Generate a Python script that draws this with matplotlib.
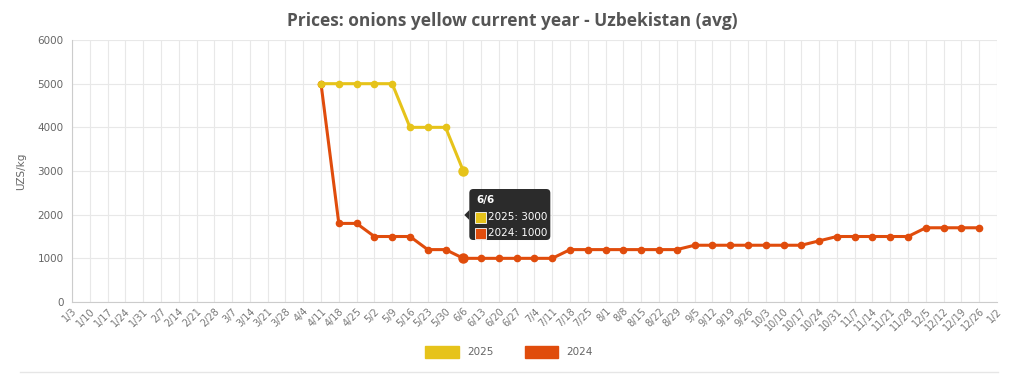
import numpy as np
import matplotlib.pyplot as plt
import matplotlib.transforms as mtransforms
from matplotlib.patches import Patch, FancyBboxPatch, Rectangle, Polygon

# semanas (eje x)
semanas = ["1/3", "1/10", "1/17", "1/24", "1/31", "2/7", "2/14", "2/21", "2/28",
           "3/7", "3/14", "3/21", "3/28", "4/4", "4/11", "4/18", "4/25", "5/2",
           "5/9", "5/16", "5/23", "5/30", "6/6", "6/13", "6/20", "6/27", "7/4",
           "7/11", "7/18", "7/25", "8/1", "8/8", "8/15", "8/22", "8/29", "9/5",
           "9/12", "9/19", "9/26", "10/3", "10/10", "10/17", "10/24", "10/31",
           "11/7", "11/14", "11/21", "11/28", "12/5", "12/12", "12/19", "12/26", "1/2"]

# precios 2025 (desde 4/11 hasta 6/6)
inicio_2025 = "4/11"
precios_2025 = [5000, 5000, 5000, 5000, 5000, 4000, 4000, 4000, 3000]

# precios 2024 (desde 4/11 hasta 12/26)
inicio_2024 = "4/11"
precios_2024 = [5000, 1800, 1800, 1500, 1500, 1500, 1200, 1200, 1000, 1000,
                1000, 1000, 1000, 1000, 1200, 1200, 1200, 1200, 1200, 1200,
                1200, 1300, 1300, 1300, 1300, 1300, 1300, 1300, 1400, 1500,
                1500, 1500, 1500, 1500, 1700, 1700, 1700, 1700]

semana_tooltip = "6/6"

color_2025 = "#e6c31a"
color_2024 = "#e04c0c"
gris = "#666666"

x = np.arange(len(semanas))
i25 = semanas.index(inicio_2025)
i24 = semanas.index(inicio_2024)
x25 = x[i25:i25 + len(precios_2025)]
x24 = x[i24:i24 + len(precios_2024)]

fig = plt.figure(figsize=(10.24, 3.74), dpi=100)
ax = fig.add_axes([0.0703, 0.1925, 0.9033, 0.7005])

ax.plot(x24, precios_2024, color=color_2024, lw=2.2, marker="o", ms=4.5, zorder=3)
ax.plot(x25, precios_2025, color=color_2025, lw=2.2, marker="o", ms=4.5, zorder=4)

# puntos resaltados del tooltip
xi = semanas.index(semana_tooltip)
v25 = precios_2025[xi - i25]
v24 = precios_2024[xi - i24]
ax.plot(xi, v25, "o", color=color_2025, ms=6.5, zorder=5)
ax.plot(xi, v24, "o", color=color_2024, ms=6.5, zorder=5)

ax.set_xlim(0, len(semanas) - 1)
ax.set_ylim(0, 6000)
ax.set_yticks(np.arange(0, 6001, 1000))
ax.set_xticks(x)
ax.set_xticklabels(semanas, rotation=45, ha="right", rotation_mode="anchor",
                   fontsize=7, color="#777777")
ax.tick_params(axis="y", labelsize=7.5, labelcolor=gris, length=0, pad=6)
ax.tick_params(axis="x", length=0, pad=3)
ax.grid(True, color="#e8e8e8", lw=0.8)
ax.set_axisbelow(True)
for s in ["top", "right"]:
    ax.spines[s].set_visible(False)
for s in ["left", "bottom"]:
    ax.spines[s].set_color("#cccccc")
ax.set_ylabel("UZS/kg", fontsize=7.5, color=gris, labelpad=8)

fig.suptitle("Prices: onions yellow current year - Uzbekistan (avg)", x=0.5, y=0.967,
             fontsize=12.5, fontweight="bold", color="#555555", family="Open Sans")

# tooltip en pixeles, relativo al punto 2025 de la semana 6/6
px, py = ax.transData.transform((xi, v25))
tr = mtransforms.Affine2D().translate(px, py)
fondo = "#2b2b2b"
ax.add_artist(FancyBboxPatch((6, -69), 81, 51, boxstyle="round,pad=0,rounding_size=4",
                             fc=fondo, ec="none", zorder=10, transform=tr))
ax.add_artist(Polygon([(6, -39), (1, -44), (6, -49)], closed=True, fc=fondo, ec="none",
                      zorder=10, transform=tr))
ax.annotate(semana_tooltip, xy=(xi, v25), xytext=(13, -29), textcoords="offset pixels",
            ha="left", va="center", fontsize=7.5, fontweight="bold", color="white", zorder=11)
for k, (lab, val, col) in enumerate([("2025", v25, color_2025), ("2024", v24, color_2024)]):
    y0 = -46 - 16 * k
    ax.add_artist(Rectangle((12, y0 - 6), 11, 11, fc=col, ec="white", lw=0.6,
                            zorder=11, transform=tr))
    ax.annotate(f"{lab}: {val}", xy=(xi, v25), xytext=(25, y0), textcoords="offset pixels",
                ha="left", va="center", fontsize=7.5, color="white", zorder=11)

handles = [Patch(color=color_2025, label="2025"), Patch(color=color_2024, label="2024")]
fig.legend(handles=handles, loc="center", bbox_to_anchor=(0.497, 0.059), ncol=2,
           frameon=False, fontsize=7.5, handlelength=3.2, handleheight=1.3,
           columnspacing=3.0, labelcolor=gris)

fig.add_artist(plt.Line2D([0.02, 0.975], [0.005, 0.005], color="#e6e6e6", lw=1))

plt.savefig("out.png", dpi=100)
